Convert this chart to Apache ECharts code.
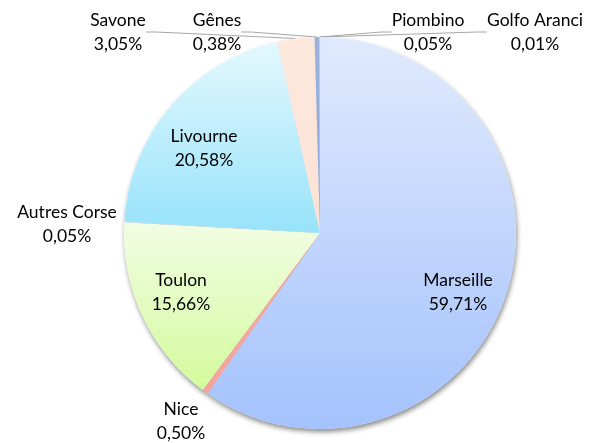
<!DOCTYPE html>
<html>
<head>
<meta charset="utf-8">
<script src="https://cdn.jsdelivr.net/npm/echarts@6/dist/echarts.min.js"></script>
<style>
  html, body { margin: 0; padding: 0; background: #fff; }
  #chart { width: 606px; height: 443px; }
</style>
</head>
<body>
<div id="chart"></div>
<script>
// ports, clockwise from the top
var ports = ["Marseille", "Nice", "Toulon", "Autres Corse", "Livourne", "Savone", "Gênes", "Piombino", "Golfo Aranci"];
// share of traffic in %
var shares = [59.71, 0.50, 15.66, 0.05, 20.58, 3.05, 0.38, 0.05, 0.01];

// slice fills: [top, bottom] of each slice's gradient
var fills = [
  ["#e0eafd", "#a4c2fc"],
  ["#f6aba5", "#f4a29c"],
  ["#f2fde4", "#d3fa9c"],
  ["#e0f0fc", "#c0dcf5"],
  ["#e4f8fe", "#97e3fa"],
  ["#fde8dd", "#fbe2d4"],
  ["#9bb2dc", "#8aa4d4"],
  ["#c9c9c9", "#b5b5b5"],
  ["#e8c070", "#d8a848"]
];
// where each label sits (centre of the two text lines)
var labelPos = [
  [458, 292], [181, 421], [181, 292], [67, 224], [204, 148],
  [118, 32], [217, 32], [428, 32], [535, 32]
];
var withLine = [false, false, false, false, false, true, true, true, true];

function pct(v) {
  return v.toFixed(2).replace(".", ",") + "%";
}

var chart = echarts.init(document.getElementById("chart"));

var data = ports.map(function (name, i) {
  return {
    name: name,
    value: shares[i],
    itemStyle: {
      color: new echarts.graphic.LinearGradient(0, 0, 0, 1, [
        { offset: 0, color: fills[i][0] },
        { offset: 1, color: fills[i][1] }
      ])
    },
    labelLine: { show: withLine[i] }
  };
});

var option = {
  animation: false,
  series: [
    {
      // shadow under the whole pie
      type: "pie",
      silent: true,
      z: 1,
      center: [320, 233],
      radius: ["0%", 196],
      startAngle: 90,
      clockwise: true,
      label: { show: false },
      labelLine: { show: false },
      itemStyle: {
        color: "#fff",
        shadowBlur: 5,
        shadowOffsetX: 1,
        shadowOffsetY: 3,
        shadowColor: "rgba(0,0,0,0.45)"
      },
      data: shares.slice()
    },
    {
      type: "pie",
      z: 2,
      center: [320, 233],
      radius: ["0%", 196],
      startAngle: 90,
      clockwise: true,
      minAngle: 0,
      avoidLabelOverlap: false,
      itemStyle: { borderWidth: 0 },
      label: {
        show: true,
        position: "outside",
        fontFamily: "Lato",
        fontSize: 17.5,
        lineHeight: 24,
        color: "#000",
        align: "center",
        formatter: function (p) {
          return p.name + "\n" + pct(p.value);
        }
      },
      labelLine: {
        length: 10,
        length2: 10,
        lineStyle: { color: "#a6a6a6", width: 1 }
      },
      labelLayout: function (p) {
        var pos = labelPos[p.dataIndex];
        return {
          x: pos[0],
          y: pos[1],
          align: "center",
          verticalAlign: "middle"
        };
      },
      data: data
    }
  ]
};

chart.setOption(option);
</script>
</body>
</html>
